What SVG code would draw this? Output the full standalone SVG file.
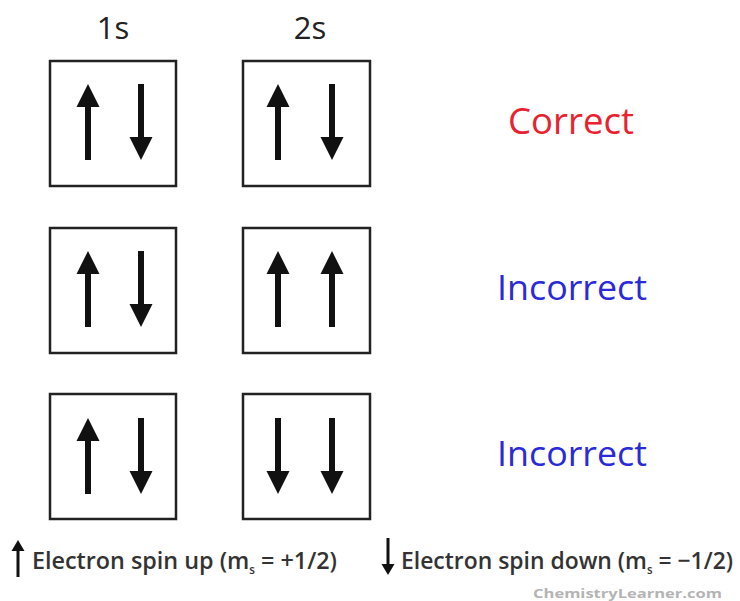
<svg xmlns="http://www.w3.org/2000/svg" xmlns:xlink="http://www.w3.org/1999/xlink" width="740" height="601" viewBox="0 0 740 601">
  <style>
    .box { fill: #ffffff; stroke: #222222; stroke-width: 2.5; }
    .hdr { font-family: "Open Sans", "DejaVu Sans", sans-serif; font-size: 31px; fill: #222222; text-anchor: middle; }
    .ok { font-family: "Open Sans", "DejaVu Sans", sans-serif; font-size: 36px; fill: #e8222e; }
    .bad { font-family: "Open Sans", "DejaVu Sans", sans-serif; font-size: 35px; fill: #2a2ad6; }
    .leg { font-family: "Open Sans", "DejaVu Sans", sans-serif; font-size: 24px; font-weight: 600; fill: #333333; }
    .sub { font-size: 12px; }
    .wm { font-family: "Open Sans", "DejaVu Sans", sans-serif; font-size: 13px; font-weight: 700; fill: #b4b4b4; }
  </style>
  <defs>
    <g id="up">
      <rect x="-3" y="18" width="6" height="58" fill="#111111"/>
      <polygon points="0,0 -11.5,23 11.5,23" fill="#111111"/>
    </g>
    <g id="upS">
      <rect x="-1.5" y="8" width="3" height="29" fill="#111111"/>
      <polygon points="0,0 -6.5,11 6.5,11" fill="#111111"/>
    </g>
  </defs>

  <text class="hdr" x="113" y="39">1s</text>
  <text class="hdr" x="310" y="39">2s</text>

  <g id="row1-1s">
    <rect class="box" x="50" y="61" width="126" height="125"/>
    <use xlink:href="#up" transform="translate(88,84)"/>
    <use xlink:href="#up" transform="translate(141,160) rotate(180)"/>
  </g>
  <g id="row1-2s">
    <rect class="box" x="243" y="61" width="127" height="125"/>
    <use xlink:href="#up" transform="translate(278,84)"/>
    <use xlink:href="#up" transform="translate(332,160) rotate(180)"/>
  </g>
  <text id="label1" class="ok" x="508" y="134" textLength="126" lengthAdjust="spacingAndGlyphs">Correct</text>

  <g id="row2-1s">
    <rect class="box" x="50" y="228" width="126" height="125"/>
    <use xlink:href="#up" transform="translate(88,251)"/>
    <use xlink:href="#up" transform="translate(141,327) rotate(180)"/>
  </g>
  <g id="row2-2s">
    <rect class="box" x="243" y="228" width="127" height="125"/>
    <use xlink:href="#up" transform="translate(278,251)"/>
    <use xlink:href="#up" transform="translate(332,251)"/>
  </g>
  <text id="label2" class="bad" x="497" y="300" textLength="150" lengthAdjust="spacingAndGlyphs">Incorrect</text>

  <g id="row3-1s">
    <rect class="box" x="50" y="394" width="126" height="125"/>
    <use xlink:href="#up" transform="translate(88,418)"/>
    <use xlink:href="#up" transform="translate(141,494) rotate(180)"/>
  </g>
  <g id="row3-2s">
    <rect class="box" x="243" y="394" width="127" height="125"/>
    <use xlink:href="#up" transform="translate(278,494) rotate(180)"/>
    <use xlink:href="#up" transform="translate(332,494) rotate(180)"/>
  </g>
  <text id="label3" class="bad" x="497" y="466" textLength="150" lengthAdjust="spacingAndGlyphs">Incorrect</text>

  <g id="legend-up">
    <use xlink:href="#upS" transform="translate(18,540)"/>
    <text class="leg" x="32" y="569" textLength="305" lengthAdjust="spacingAndGlyphs">Electron spin up (m<tspan class="sub" dy="5">s</tspan><tspan dy="-5"> = +1/2)</tspan></text>
  </g>
  <g id="legend-down">
    <use xlink:href="#upS" transform="translate(388,575) rotate(180)"/>
    <text class="leg" x="401" y="569" textLength="332" lengthAdjust="spacingAndGlyphs">Electron spin down (m<tspan class="sub" dy="5">s</tspan><tspan dy="-5"> = −1/2)</tspan></text>
  </g>
  <text class="wm" x="533" y="598" textLength="189" lengthAdjust="spacingAndGlyphs">ChemistryLearner.com</text>
</svg>
